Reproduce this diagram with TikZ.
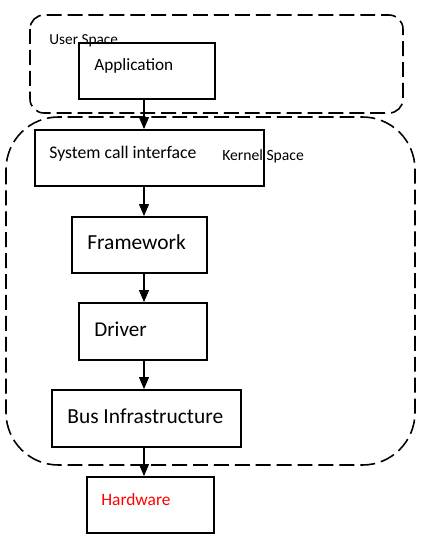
\documentclass[tikz,border=0pt]{standalone}
\usepackage{fontspec}
\setmainfont{Carlito}
\usetikzlibrary{arrows.meta}

\tikzset{
  box/.style={draw,rectangle,line width=1.1pt,inner sep=0pt},
  lbl/.style={inner sep=0pt,anchor=west},
  spacebox/.style={line width=0.9pt,dash pattern=on 8.5pt off 3.4pt},
  arr/.style={line width=0.6pt,-{Triangle[length=0.24cm,width=0.2cm]}}
}

\begin{document}
\begin{tikzpicture}[x=0.02cm,y=-0.02cm]
    \useasboundingbox (0,0) rectangle (421,539);
    % the two spaces
    \draw[spacebox,rounded corners=0.28cm] (30,15) rectangle (403,113);
    \draw[spacebox,rounded corners=1.05cm] (6,117) rectangle (415,465);
    \node[lbl,font=\fontsize{8.7}{10}\selectfont] (user) at (49,41) {User Space};
    \node[lbl,font=\fontsize{8.9}{10}\selectfont] (kernel) at (222,156) {Kernel Space};
    % boxes
    \node[box,minimum width=2.72cm,minimum height=1.12cm] (app) at (147,71) {};
    \node[box,minimum width=4.58cm,minimum height=1.12cm] (sys) at (149.5,158) {};
    \node[box,minimum width=2.7cm,minimum height=1.12cm] (fw) at (139.5,245) {};
    \node[box,minimum width=2.56cm,minimum height=1.14cm] (drv) at (143,331.5) {};
    \node[box,minimum width=3.78cm,minimum height=1.14cm] (bus) at (146.5,418.5) {};
    \node[box,minimum width=2.54cm,minimum height=1.12cm] (hw) at (150.5,505) {};
    % texts
    \node[lbl,font=\fontsize{9.8}{11}\selectfont] (apptxt) at (94,66) {Application};
    \node[lbl,font=\fontsize{10.1}{11}\selectfont] (systxt) at (49,154) {System call interface};
    \node[lbl,font=\fontsize{12.2}{14}\selectfont] (fwtxt) at (87,242) {Framework};
    \node[lbl,font=\fontsize{12}{14}\selectfont] (drvtxt) at (94,329) {Driver};
    \node[lbl,font=\fontsize{12.2}{14}\selectfont] (bustxt) at (67,416) {Bus Infrastructure};
    \node[lbl,font=\fontsize{9.9}{11}\selectfont,text=red] (hwtxt) at (101,500) {Hardware};
    % arrows
    \coordinate (ax) at (144,0);
    \draw[arr] (app.south -| ax) -- (sys.north -| ax);
    \draw[arr] (sys.south -| ax) -- (fw.north -| ax);
    \draw[arr] (fw.south -| ax) -- (drv.north -| ax);
    \draw[arr] (drv.south -| ax) -- (bus.north -| ax);
    \draw[arr] (bus.south -| ax) -- (hw.north -| ax);
\end{tikzpicture}
\end{document}
